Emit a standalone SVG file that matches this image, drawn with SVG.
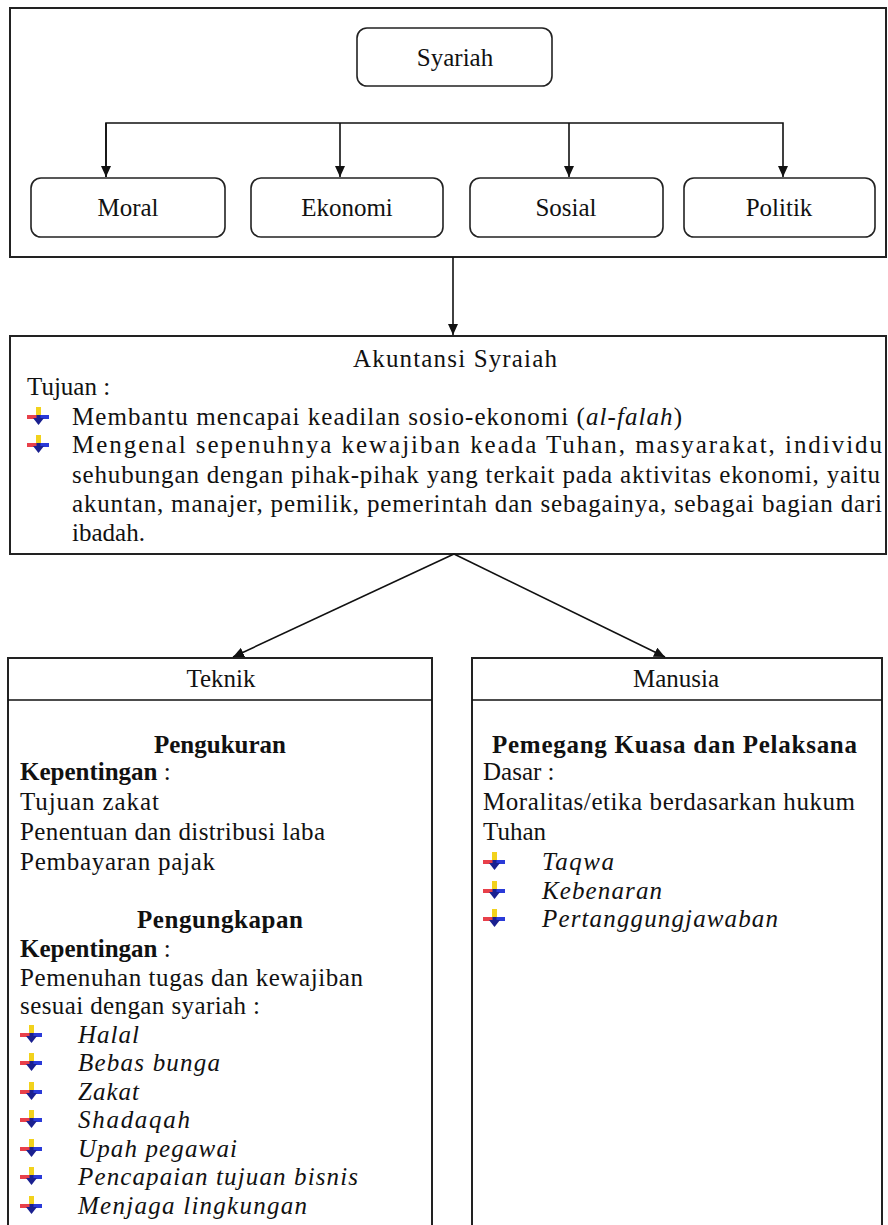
<svg xmlns="http://www.w3.org/2000/svg" width="888" height="1225" viewBox="0 0 888 1225">
<style>
text{font-family:"Liberation Serif","Times New Roman",serif;font-size:25px;fill:#111}
.c{text-anchor:middle}
.b{font-weight:bold}
.i{font-style:italic}
.box{fill:#fff;stroke:#222;stroke-width:2}
.rbox{fill:#fff;stroke:#222;stroke-width:1.6}
.ln{fill:none;stroke:#111;stroke-width:1.6}
</style>
<defs>
<marker id="ah" markerUnits="userSpaceOnUse" markerWidth="12" markerHeight="10" refX="11" refY="5" orient="auto">
<path d="M0,0 L11,5 L0,10 z" fill="#111"/>
</marker>
<symbol id="bul" viewBox="0 0 22 18" width="22" height="18">
<rect x="9" y="0" width="5" height="9" fill="#f2d21c"/>
<rect x="0" y="8" width="11" height="4" fill="#e8404a"/>
<rect x="11" y="8" width="11" height="4" fill="#2a3ad8"/>
<rect x="9.5" y="8" width="4" height="5" fill="#1a2090"/>
<polygon points="6,11 17,11 11.5,18" fill="#1a2090"/>
</symbol>
</defs>
<rect width="888" height="1225" fill="#fff"/>

<g id="frame-syariah">
<rect class="box" x="10" y="8" width="876" height="249"/>
</g>
<g id="node-syariah">
<rect class="rbox" x="357" y="28" width="195" height="58" rx="10"/>
<text class="c" x="455" y="66">Syariah</text>
</g>
<g id="node-moral">
<rect class="rbox" x="31" y="178" width="194" height="59" rx="10"/>
<text class="c" x="128" y="216">Moral</text>
</g>
<g id="node-ekonomi">
<rect class="rbox" x="251" y="178" width="192" height="59" rx="10"/>
<text class="c" x="347" y="216">Ekonomi</text>
</g>
<g id="node-sosial">
<rect class="rbox" x="470" y="178" width="193" height="59" rx="10"/>
<text class="c" x="566" y="216">Sosial</text>
</g>
<g id="node-politik">
<rect class="rbox" x="684" y="178" width="191" height="59" rx="10"/>
<text class="c" x="779" y="216">Politik</text>
</g>

<g id="node-akuntansi">
<rect class="box" x="10" y="336" width="876" height="218"/>
<text x="353" y="367" textLength="204" lengthAdjust="spacing">Akuntansi Syraiah</text>
<text x="27" y="395">Tujuan :</text>
<use href="#bul" x="27" y="407"/>
<text x="72" y="425" textLength="610" lengthAdjust="spacing">Membantu mencapai keadilan sosio-ekonomi (<tspan class="i">al-falah</tspan>)</text>
<use href="#bul" x="27" y="435"/>
<text x="72" y="453" textLength="810" lengthAdjust="spacing">Mengenal sepenuhnya kewajiban keada Tuhan, masyarakat, individu</text>
<text x="72" y="483" textLength="808" lengthAdjust="spacing">sehubungan dengan pihak-pihak yang terkait pada aktivitas ekonomi, yaitu</text>
<text x="72" y="512" textLength="810" lengthAdjust="spacing">akuntan, manajer, pemilik, pemerintah dan sebagainya, sebagai bagian dari</text>
<text x="72" y="541">ibadah.</text>
</g>

<g id="node-teknik">
<rect class="box" x="8" y="658" width="424" height="600"/>
<line class="ln" x1="8" y1="700" x2="432" y2="700" stroke-width="2"/>
<text class="c" x="221" y="687">Teknik</text>
<text class="c b" x="220" y="753">Pengukuran</text>
<text x="20" y="780"><tspan class="b">Kepentingan</tspan> :</text>
<text x="20" y="810" textLength="139" lengthAdjust="spacing">Tujuan zakat</text>
<text x="20" y="840" textLength="305" lengthAdjust="spacing">Penentuan dan distribusi laba</text>
<text x="20" y="870" textLength="195" lengthAdjust="spacing">Pembayaran pajak</text>
<text class="b" x="137" y="928" textLength="166" lengthAdjust="spacing">Pengungkapan</text>
<text x="20" y="957"><tspan class="b">Kepentingan</tspan> :</text>
<text x="20" y="986" textLength="343" lengthAdjust="spacing">Pemenuhan tugas dan kewajiban</text>
<text x="20" y="1014" textLength="240" lengthAdjust="spacing">sesuai dengan syariah :</text>
<use href="#bul" x="20" y="1025"/>
<text class="i" x="78" y="1043" textLength="61" lengthAdjust="spacing">Halal</text>
<use href="#bul" x="20" y="1053"/>
<text class="i" x="78" y="1071" textLength="142" lengthAdjust="spacing">Bebas bunga</text>
<use href="#bul" x="20" y="1082"/>
<text class="i" x="78" y="1100" textLength="61" lengthAdjust="spacing">Zakat</text>
<use href="#bul" x="20" y="1110"/>
<text class="i" x="78" y="1128" textLength="112" lengthAdjust="spacing">Shadaqah</text>
<use href="#bul" x="20" y="1139"/>
<text class="i" x="78" y="1157" textLength="159" lengthAdjust="spacing">Upah pegawai</text>
<use href="#bul" x="20" y="1167"/>
<text class="i" x="78" y="1185" textLength="280" lengthAdjust="spacing">Pencapaian tujuan bisnis</text>
<use href="#bul" x="20" y="1196"/>
<text class="i" x="78" y="1214" textLength="229" lengthAdjust="spacing">Menjaga lingkungan</text>
</g>

<g id="node-manusia">
<rect class="box" x="472" y="658" width="410" height="600"/>
<line class="ln" x1="472" y1="700" x2="882" y2="700" stroke-width="2"/>
<text class="c" x="676" y="687">Manusia</text>
<text class="b" x="492" y="753" textLength="365" lengthAdjust="spacing">Pemegang Kuasa dan Pelaksana</text>
<text x="483" y="780">Dasar :</text>
<text x="483" y="810" textLength="372" lengthAdjust="spacing">Moralitas/etika berdasarkan hukum</text>
<text x="483" y="840">Tuhan</text>
<use href="#bul" x="483" y="852"/>
<text class="i" x="542" y="870" textLength="72" lengthAdjust="spacing">Taqwa</text>
<use href="#bul" x="483" y="881"/>
<text class="i" x="542" y="899" textLength="120" lengthAdjust="spacing">Kebenaran</text>
<use href="#bul" x="483" y="909"/>
<text class="i" x="542" y="927" textLength="236" lengthAdjust="spacing">Pertanggungjawaban</text>
</g>

<g id="connectors">
<polyline class="ln" points="106,177 106,123 783,123 783,177" marker-end="url(#ah)"/>
<line class="ln" x1="106" y1="123" x2="106" y2="177" marker-end="url(#ah)"/>
<line class="ln" x1="340" y1="123" x2="340" y2="177" marker-end="url(#ah)"/>
<line class="ln" x1="569" y1="123" x2="569" y2="177" marker-end="url(#ah)"/>
<line class="ln" x1="453" y1="257" x2="453" y2="335" marker-end="url(#ah)"/>
<line class="ln" x1="454" y1="554" x2="233" y2="657" marker-end="url(#ah)"/>
<line class="ln" x1="454" y1="554" x2="665" y2="657" marker-end="url(#ah)"/>
</g>
</svg>
